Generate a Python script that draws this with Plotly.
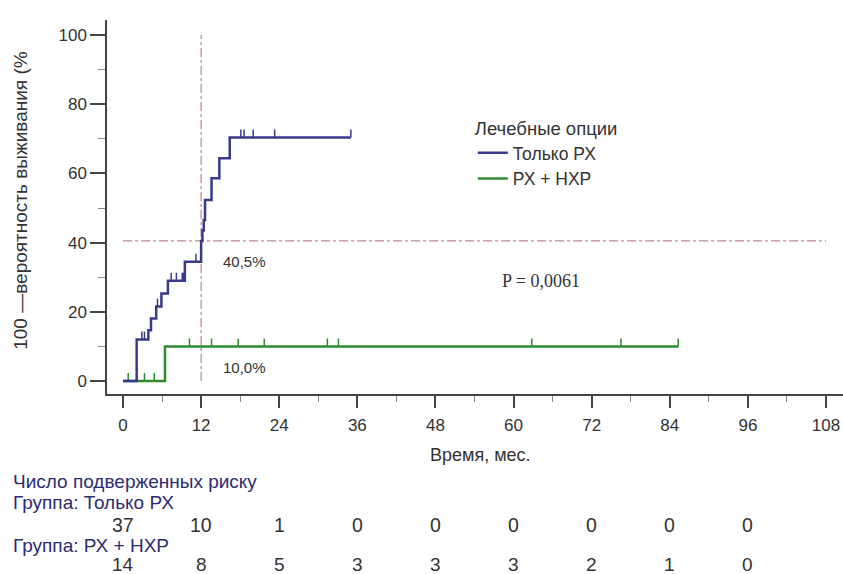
import plotly.graph_objects as go

# ---------------- data ----------------
# "Только РХ" : cumulative incidence steps (time, %)
rx_t = [0, 2.1, 3.9, 4.3, 5.1, 5.9, 6.9, 9.5, 12.0, 12.2, 12.4, 12.6, 13.6, 14.8, 16.4, 35.0]
rx_v = [0, 12.0, 14.7, 18.1, 21.5, 25.3, 29.0, 34.5, 40.5, 43.5, 46.5, 52.3, 58.6, 64.4, 70.4, 70.4]
rx_cens = [2.9, 3.3, 5.3, 7.4, 8.2, 9.1, 9.3, 11.2, 18.1, 18.6, 20.0, 23.3, 35.0]

# "РХ + НХР"
hx_t = [0, 6.45, 85.3]
hx_v = [0, 10.0, 10.0]
hx_cens = [0.8, 3.3, 4.8, 10.2, 13.6, 17.7, 21.7, 31.4, 33.1, 62.8, 76.5, 85.3]

median_t = 12.0
ref_level = 40.5

x_ticks = [0, 12, 24, 36, 48, 60, 72, 84, 96, 108]
y_ticks = [0, 20, 40, 60, 80, 100]
risk_times = [0, 12, 24, 36, 48, 60, 72, 84, 96]
risk_rx = [37, 10, 1, 0, 0, 0, 0, 0, 0]
risk_hx = [14, 8, 5, 3, 3, 3, 2, 1, 0]

BLUE = "#3a3a8c"
GREEN = "#2e8b2e"
REF = "#b06a6a"
TXT = "#333333"
NAVY = "#2c2c74"
FONT = "Liberation Sans, Arial, sans-serif"


def step_value(ts, vs, t):
    v = vs[0]
    for ti, vi in zip(ts, vs):
        if ti <= t:
            v = vi
    return v


def censor_segments(ts, vs, cens, h=2.3):
    xs, ys = [], []
    for c in cens:
        lv = step_value(ts, vs, c)
        xs += [c, c, None]
        ys += [lv, lv + h, None]
    return xs, ys


fig = go.Figure()

# reference lines (median)
fig.add_trace(go.Scatter(x=[median_t, median_t], y=[0, 100], mode="lines",
                         line=dict(color=REF, width=1, dash="dashdot"),
                         showlegend=False, hoverinfo="skip"))
fig.add_trace(go.Scatter(x=[0, 108], y=[ref_level, ref_level], mode="lines",
                         line=dict(color=REF, width=1, dash="dashdot"),
                         showlegend=False, hoverinfo="skip"))

# curves
fig.add_trace(go.Scatter(x=hx_t, y=hx_v, mode="lines", line_shape="hv",
                         line=dict(color=GREEN, width=2.5), name="РХ + НХР",
                         legendrank=2))
cx, cy = censor_segments(hx_t, hx_v, hx_cens)
fig.add_trace(go.Scatter(x=cx, y=cy, mode="lines", line=dict(color=GREEN, width=1.5),
                         showlegend=False, hoverinfo="skip"))

fig.add_trace(go.Scatter(x=rx_t, y=rx_v, mode="lines", line_shape="hv",
                         line=dict(color=BLUE, width=2.5), name="Только РХ",
                         legendrank=1))
cx, cy = censor_segments(rx_t, rx_v, rx_cens)
fig.add_trace(go.Scatter(x=cx, y=cy, mode="lines", line=dict(color=BLUE, width=1.5),
                         showlegend=False, hoverinfo="skip"))

ann = []
ann.append(dict(x=18.7, y=34.4, xref="x", yref="y", text="40,5%", showarrow=False,
                font=dict(size=15, color=TXT, family=FONT)))
ann.append(dict(x=18.7, y=3.8, xref="x", yref="y", text="10,0%", showarrow=False,
                font=dict(size=15, color=TXT, family=FONT)))
ann.append(dict(x=64.2, y=28.9, xref="x", yref="y", text="P = 0,0061", showarrow=False,
                font=dict(size=18, color=TXT, family="Liberation Serif, Times New Roman, serif")))
# axis titles
ann.append(dict(x=-0.1170, y=0.519, xref="paper", yref="paper", xanchor="center",
                yanchor="middle",
                text="100 —вероятность выживания (%", textangle=-90, showarrow=False,
                font=dict(size=19, color=TXT, family=FONT)))
ann.append(dict(x=0.507, y=-0.163, xref="paper", yref="paper", xanchor="center",
                yanchor="middle", text="Время, мес.",
                showarrow=False, font=dict(size=18, color=TXT, family=FONT)))
# at-risk table
lab_x = -0.1305
for txt, yp in [("Число подверженных риску", -0.235), ("Группа: Только РХ", -0.291),
                ("Группа: РХ + НХР", -0.404)]:
    ann.append(dict(x=lab_x, y=yp, xref="paper", yref="paper", text=txt, xanchor="left",
                    yanchor="middle",
                    showarrow=False, font=dict(size=19, color=NAVY, family=FONT)))
for t, a, b in zip(risk_times, risk_rx, risk_hx):
    ann.append(dict(x=t, y=-0.350, xref="x", yref="paper", text=str(a), showarrow=False,
                    xanchor="center", yanchor="middle",
                    font=dict(size=19.5, color=TXT, family=FONT)))
    ann.append(dict(x=t, y=-0.455, xref="x", yref="paper", text=str(b), showarrow=False,
                    xanchor="center", yanchor="middle",
                    font=dict(size=19, color=TXT, family=FONT)))

fig.update_layout(
    width=843, height=574,
    margin=dict(l=107, r=0, t=20, b=180),
    paper_bgcolor="white", plot_bgcolor="white",
    font=dict(family=FONT, color=TXT, size=17),
    annotations=ann,
    legend=dict(x=0.497, y=0.757, xanchor="left", yanchor="top",
                title=dict(text="Лечебные опции", font=dict(size=18.5, color=TXT)),
                font=dict(size=17.5, color=TXT), bgcolor="rgba(0,0,0,0)",
                itemwidth=30, tracegroupgap=0),
    xaxis=dict(range=[-2.458, 110.61], tickvals=x_ticks, showgrid=False, zeroline=False,
               showline=True, linecolor="#444", linewidth=1.5,
               ticks="outside", ticklen=12, tickwidth=1.5, tickcolor="#444",
               ticklabelstandoff=3,
               tickfont=dict(size=17, color=TXT),
               minor=dict(tickvals=[6, 18, 30, 42, 54, 66, 78, 90, 102], ticks="outside",
                          ticklen=6, tickwidth=1, tickcolor="#888")),
    yaxis=dict(range=[-3.757, 104.34], tickvals=y_ticks, showgrid=False, zeroline=False,
               showline=True, linecolor="#444", linewidth=1.5,
               ticks="outside", ticklen=15, tickwidth=1.5, tickcolor="#444",
               tickfont=dict(size=17, color=TXT),
               minor=dict(tickvals=[10, 30, 50, 70, 90], ticks="outside",
                          ticklen=7, tickwidth=1, tickcolor="#888")),
)

fig.write_html("out.html")
